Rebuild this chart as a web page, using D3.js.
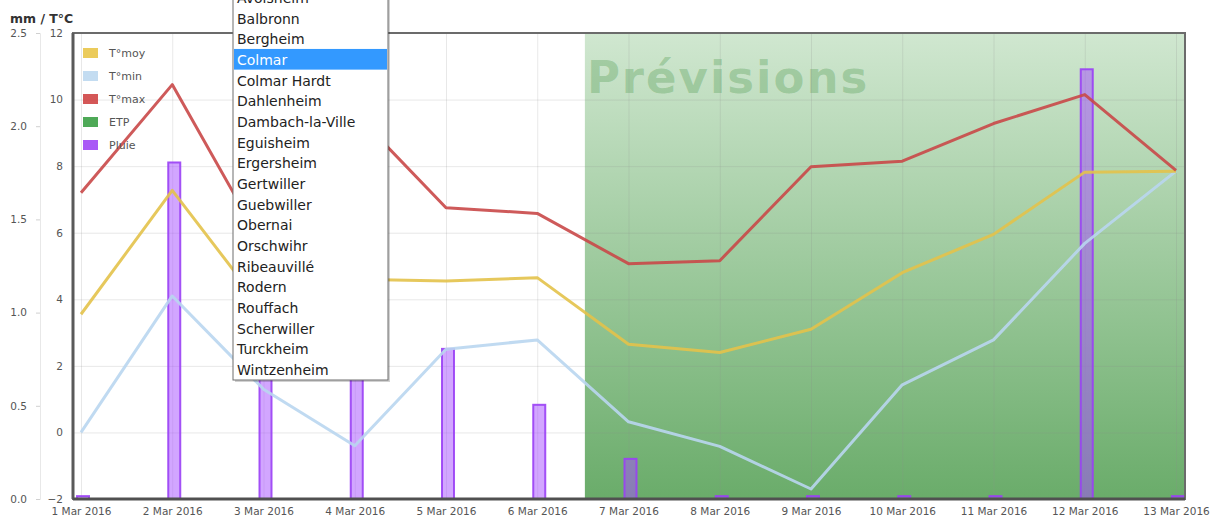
<!DOCTYPE html>
<html>
<head>
<meta charset="utf-8">
<script src="https://cdn.jsdelivr.net/npm/d3@7"></script>
<style>
  body { margin: 0; background: #fff; }
  svg { display: block; font-family: 'DejaVu Sans', sans-serif; }
</style>
</head>
<body>
<div id="chart"></div>
<script>
// data
const days = ['1 Mar 2016', '2 Mar 2016', '3 Mar 2016', '4 Mar 2016', '5 Mar 2016', '6 Mar 2016', '7 Mar 2016',
  '8 Mar 2016', '9 Mar 2016', '10 Mar 2016', '11 Mar 2016', '12 Mar 2016', '13 Mar 2016'];
const tMoy = [3.55, 7.27, 3.7, 4.6, 4.55, 4.65, 2.65, 2.4, 3.1, 4.8, 5.95, 7.82, 7.85];
const tMin = [0, 4.1, 1.3, -0.4, 2.5, 2.78, 0.32, -0.42, -1.7, 1.43, 2.78, 5.68, 7.85];
const tMax = [7.2, 10.45, 5.6, 9.6, 6.75, 6.58, 5.07, 5.16, 7.98, 8.15, 9.28, 10.15, 7.87];
const pluie = [0.01, 1.80, 1.2, 1.0, 0.80, 0.50, 0.21, 0.01, 0.01, 0.01, 0.01, 2.30, 0.01];
const tempTicks = [-2, 0, 2, 4, 6, 8, 10, 12];
const mmTicks = [0, 0.5, 1.0, 1.5, 2.0, 2.5];
const firstForecast = '7 Mar 2016';
const legendItems = [
  { name: 'T°moy', color: '#e8c23e' },
  { name: 'T°min', color: '#b9d6ef' },
  { name: 'T°max', color: '#cc3a3a' },
  { name: 'ETP', color: '#2f9a3a' },
  { name: 'Pluie', color: '#9a3cf5' }
];
const stations = ['Avolsheim', 'Balbronn', 'Bergheim', 'Colmar', 'Colmar Hardt', 'Dahlenheim', 'Dambach-la-Ville',
  'Eguisheim', 'Ergersheim', 'Gertwiller', 'Guebwiller', 'Obernai', 'Orschwihr', 'Ribeauvillé', 'Rodern',
  'Rouffach', 'Scherwiller', 'Turckheim', 'Wintzenheim'];
const selected = 'Colmar';

const W = 1215, H = 521;
const pLeft = 73, pRight = 1185, pTop = 33, pBottom = 499;

const svg = d3.select('#chart').append('svg')
  .attr('width', W)
  .attr('height', H);

const x = d3.scalePoint().domain(days).range([81, 1176]);
const yT = d3.scaleLinear().domain([-2, 12]).range([pBottom, pTop]);
const yMm = d3.scaleLinear().domain([0, 2.5]).range([pBottom, pTop]);

// forecast zone (under everything)
const fx = (x(days[days.indexOf(firstForecast) - 1]) + x(firstForecast)) / 2 + 2;
const defs = svg.append('defs');
const grad = defs.append('linearGradient')
  .attr('id', 'prev')
  .attr('x1', '0%').attr('y1', '0%')
  .attr('x2', '0%').attr('y2', '100%');
grad.append('stop').attr('offset', '0%').attr('stop-color', '#d0e7d0');
grad.append('stop').attr('offset', '100%').attr('stop-color', '#6aac6a');

svg.append('rect')
  .attr('x', fx)
  .attr('y', pTop)
  .attr('width', pRight - fx)
  .attr('height', pBottom - pTop)
  .style('fill', 'url(#prev)');

svg.append('text')
  .attr('x', fx + 2)
  .attr('y', 93)
  .text('Prévisions')
  .style('font-size', '45px')
  .style('font-weight', 'bold')
  .style('letter-spacing', '2px')
  .style('fill', '#3d8f3d')
  .style('fill-opacity', 0.3);

// grid
svg.append('g')
  .attr('class', 'grid')
  .attr('transform', `translate(${pLeft},0)`)
  .call(d3.axisLeft(yT).tickValues(tempTicks).tickSize(-(pRight - pLeft)).tickFormat(''));
svg.append('g')
  .attr('class', 'grid')
  .attr('transform', `translate(0,${pTop})`)
  .call(d3.axisBottom(x).tickSize(pBottom - pTop).tickFormat(''));
svg.selectAll('.grid path').remove();
svg.selectAll('.grid .tick line')
  .style('stroke', '#8a8a8a')
  .style('stroke-opacity', 0.2)
  .style('stroke-width', 1);

// rain bars
const bw = 12;
svg.append('g').selectAll('rect')
  .data(days.map((d, i) => ({ day: d, v: pluie[i] })))
  .enter()
  .append('rect')
  .attr('x', d => x(d.day) + 2 - bw / 2)
  .attr('y', d => yMm(d.v) - 1)
  .attr('width', bw)
  .attr('height', d => pBottom - yMm(d.v) + 1)
  .style('fill', '#a64dff')
  .style('fill-opacity', 0.5)
  .style('stroke', '#9a40f5')
  .style('stroke-opacity', 0.9)
  .style('stroke-width', 2);

// temperature lines
const line = d3.line().x(d => x(d.day)).y(d => yT(d.v));
const series = [
  { vals: tMin, color: '#b9d6ef' },
  { vals: tMoy, color: '#e3c24a' },
  { vals: tMax, color: '#c94848' }
];
series.forEach(s => {
  svg.append('path')
    .datum(days.map((d, i) => ({ day: d, v: s.vals[i] })))
    .attr('d', line)
    .style('fill', 'none')
    .style('stroke', s.color)
    .style('stroke-opacity', 0.9)
    .style('stroke-width', 3)
    .style('stroke-linejoin', 'round');
});

// plot frame
svg.append('rect')
  .attr('x', pLeft)
  .attr('y', pTop)
  .attr('width', pRight - pLeft)
  .attr('height', pBottom - pTop)
  .style('fill', 'none')
  .style('stroke', '#6b6b6b')
  .style('stroke-width', 2);
svg.append('line')
  .attr('x1', pLeft).attr('x2', pLeft)
  .attr('y1', pTop).attr('y2', pBottom)
  .style('stroke', '#5a5a5a').style('stroke-width', 3);
svg.append('line')
  .attr('x1', pLeft).attr('x2', pRight)
  .attr('y1', pBottom).attr('y2', pBottom)
  .style('stroke', '#505050').style('stroke-width', 3);

// axes
const axT = svg.append('g')
  .attr('class', 'axis')
  .attr('transform', `translate(${pLeft},0)`)
  .call(d3.axisLeft(yT).tickValues(tempTicks).tickSize(0).tickPadding(10));
axT.select('.domain').remove();

const axMm = svg.append('g')
  .attr('class', 'axis')
  .attr('transform', 'translate(40,0)')
  .call(d3.axisLeft(yMm).tickValues(mmTicks).tickFormat(d3.format('.1f')).tickSize(4).tickPadding(9));
axMm.select('.domain').style('stroke', '#e8e8e8');
axMm.selectAll('.tick line').style('stroke', '#d0d0d0');

const axX = svg.append('g')
  .attr('class', 'axis')
  .attr('transform', `translate(0,${pBottom})`)
  .call(d3.axisBottom(x).tickSize(0).tickPadding(9));
axX.select('.domain').remove();

svg.selectAll('.axis text')
  .style('font-family', "'DejaVu Sans', sans-serif")
  .style('font-size', '10.5px')
  .style('fill', '#555');

svg.append('text')
  .attr('x', 10)
  .attr('y', 23)
  .text('mm / T°C')
  .style('font-size', '12.5px')
  .style('font-weight', 'bold')
  .style('fill', '#333');

// legend
const leg = svg.append('g').attr('transform', 'translate(83,53)');
const legRows = leg.selectAll('g')
  .data(legendItems)
  .enter()
  .append('g')
  .attr('transform', (d, i) => `translate(0,${i * 23})`);
legRows.append('rect')
  .attr('x', 0).attr('y', -5)
  .attr('width', 15).attr('height', 10)
  .style('fill', d => d.color)
  .style('fill-opacity', 0.85);
legRows.append('text')
  .attr('x', 26)
  .attr('y', 4)
  .text(d => d.name)
  .style('font-size', '11px')
  .style('fill', '#555');

// station dropdown (open list)
const ddX = 233, ddW = 155, itemH = 20.67, ddBottom = 380;
const firstBase = ddBottom - 5 - (stations.length - 1) * itemH;
const dd = svg.append('g');
dd.append('rect')
  .attr('x', ddX + 2).attr('y', -10)
  .attr('width', ddW).attr('height', ddBottom + 12)
  .style('fill', '#000').style('fill-opacity', 0.18);
dd.append('rect')
  .attr('x', ddX).attr('y', -10)
  .attr('width', ddW).attr('height', ddBottom + 10)
  .style('fill', '#fff')
  .style('stroke', '#6e6e6e')
  .style('stroke-width', 1);
dd.append('rect')
  .attr('x', ddX + 1)
  .attr('y', firstBase + stations.indexOf(selected) * itemH - 16)
  .attr('width', ddW - 2)
  .attr('height', itemH)
  .style('fill', '#3399ff');
dd.selectAll('text.st')
  .data(stations)
  .enter()
  .append('text')
  .attr('class', 'st')
  .attr('x', ddX + 4)
  .attr('y', (d, i) => firstBase + i * itemH)
  .text(d => d)
  .style('font-size', '14px')
  .style('fill', d => d === selected ? '#fff' : '#222');
</script>
</body>
</html>
